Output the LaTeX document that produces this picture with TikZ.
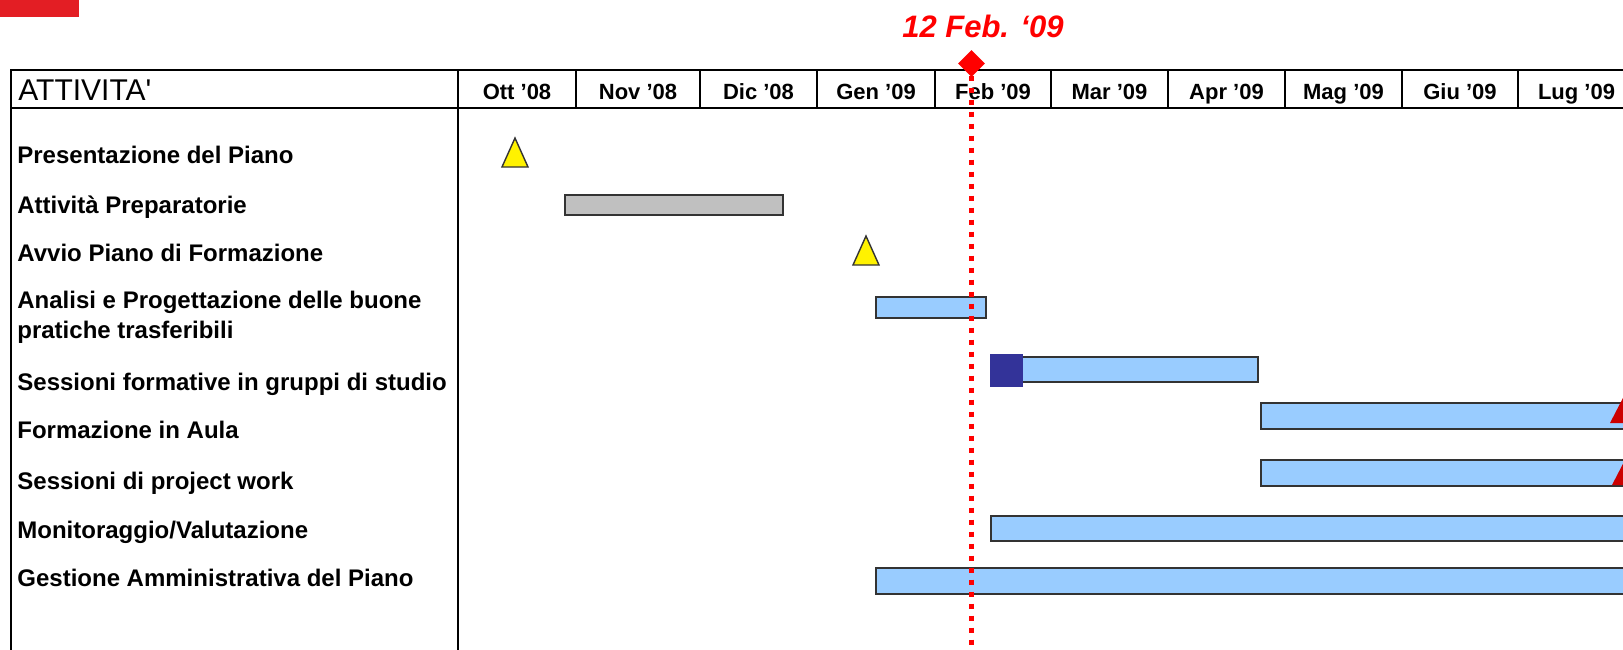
\documentclass[tikz,border=0pt]{standalone}
\usepackage{fontspec}
\setmainfont{Liberation Sans}
\newfontfamily\headfont{Liberation Sans}
\usepackage{tikz}
\usetikzlibrary{shapes.geometric}
\definecolor{barcolor}{HTML}{99CCFF}
\definecolor{prepcolor}{HTML}{C0C0C0}
\definecolor{edgecolor}{HTML}{333333}
\definecolor{startcolor}{HTML}{333399}
\definecolor{logocolor}{HTML}{E31E24}
\definecolor{endcolor}{HTML}{CC0000}

\begin{document}
\begin{tikzpicture}[x=0.5pt, y=-0.5pt,
  task/.style={anchor=base west, inner sep=0, font=\fontsize{12}{15}\selectfont\bfseries},
  month/.style={anchor=base, inner sep=0, font=\fontsize{11}{13}\selectfont\bfseries},
  bar/.style={draw=edgecolor, line width=1pt, fill=barcolor},
  milestone/.style={draw=edgecolor, line width=0.7pt, fill=yellow},
  grid/.style={line width=1pt}]%
\useasboundingbox (0,0) rectangle (1623,649);%
\clip (0,0) rectangle (1623,649);%
\fill[logocolor] (0,0) rectangle (79,17);%
% table
\draw[grid] (11,660) -- (11,69.5) -- (1640,69.5);%
\draw[grid] (11,108) -- (1640,108);%
\draw[grid] (458,69.5) -- (458,660);%
\node[anchor=base west, inner sep=0, font=\headfont\fontsize{15}{18}\selectfont] (head) at (18,100) {ATTIVITA'};%
\foreach \l/\r/\m [count=\i] in {458/576/Ott '08, 576/700/Nov '08, 700/817/Dic '08, 817/935/Gen '09, 935/1051/Feb '09, 1051/1168/Mar '09, 1168/1285/Apr '09, 1285/1402/Mag '09, 1402/1518/Giu '09, 1518/1635/Lug '09}{%
  \draw[grid] (\r,69.5) -- (\r,108);%
  \node[month] (m\i) at ({(\l+\r)/2},99) {\m};%
}
% bars
\draw[draw=edgecolor, line width=1pt, fill=prepcolor] (565,195) rectangle (783,215);%
\draw[bar] (876,297) rectangle (986,318);%
\draw[bar] (1020,357) rectangle (1258,382);%
\fill[startcolor] (990,354) rectangle (1023,387);%
\draw[bar] (1261,403) rectangle (1700,429);%
\draw[bar] (1261,460) rectangle (1700,486);%
\draw[bar] (991,516) rectangle (1700,541);%
\draw[bar] (876,568) rectangle (1700,594);%
% milestones
\draw[milestone] (502,167) -- (515,138) -- (528,167) -- cycle;%
\draw[milestone] (853,265) -- (866,236) -- (879,265) -- cycle;%
\fill[endcolor] (1610,423) -- (1625,394) -- (1640,423) -- cycle;%
\fill[endcolor] (1612,485) -- (1627,456) -- (1642,485) -- cycle;%
% today
\node[diamond, fill=red, inner sep=0, minimum size=27pt*0.5, aspect=1.1] (today) at (971.5,63.5) {};%
\coordinate (todayend) at (971.5,660);%
\draw[red, line width=2.5pt, dash pattern=on 2.5pt off 3.5pt] (today.center) -- (todayend);%
\node[anchor=base, inner sep=0, text=red, font=\fontsize{15.5}{18}\selectfont\bfseries\itshape] (todaylabel) at (983,37) {12 Feb. ‘09};%
% activities
\node[task] (pres) at (17,163) {Presentazione del Piano};%
\node[task] (prep) at (17,213) {Attività Preparatorie};%
\node[task] (avvio) at (17,261) {Avvio Piano di Formazione};%
\node[task, align=left] (analisi) at (17,338) {Analisi e Progettazione delle buone\\pratiche trasferibili};%
\node[task] (gruppi) at (17,390) {Sessioni formative in gruppi di studio};%
\node[task] (aula) at (17,438) {Formazione in Aula};%
\node[task] (pw) at (17,489) {Sessioni di project work};%
\node[task] (monit) at (17,538) {Monitoraggio/Valutazione};%
\node[task] (gest) at (17,586) {Gestione Amministrativa del Piano};%
\end{tikzpicture}
\end{document}
